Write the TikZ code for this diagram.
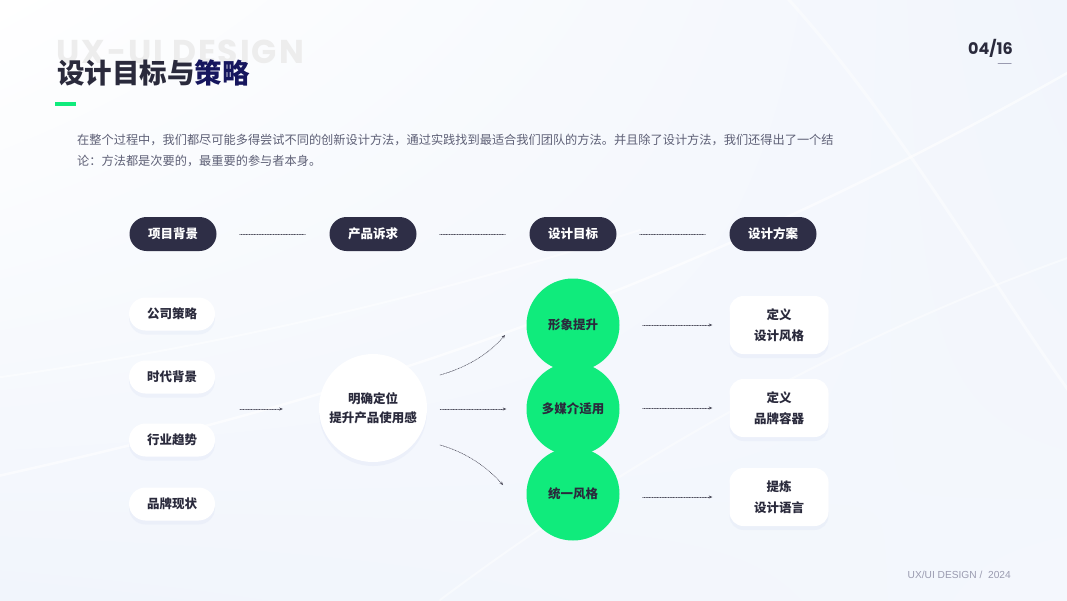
\documentclass[tikz,border=0pt]{standalone}
\usepackage{fontspec}
\setmainfont{Liberation Sans}
\newfontfamily\cjk{Noto Sans CJK SC}
\newfontfamily\pop{Poppins}
\newfontfamily\popwide{Poppins}[LetterSpace=6]
\usetikzlibrary{calc,arrows.meta,shadows,shadings}

\definecolor{ink}{HTML}{2A2A3C}
\definecolor{navy}{HTML}{16165E}
\definecolor{pill}{HTML}{2E2E46}
\definecolor{mint}{HTML}{10EB7C}
\definecolor{prose}{HTML}{5E6076}
\definecolor{muted}{HTML}{9A9BB0}
\definecolor{paper}{HTML}{F1F5FC}
\definecolor{haze}{HTML}{C9D4EE}

\begin{document}
\begin{tikzpicture}[x=1pt, y=-1pt, line cap=round, line join=round]
  \useasboundingbox (0,0) rectangle (1067,600);
  \tikzset{
    headpill/.style={fill=pill, rounded corners=17pt, minimum width=87pt, minimum height=34pt,
      inner sep=0pt, text=white, font=\cjk\bfseries\fontsize{12.5}{15}\selectfont},
    sidepill/.style={fill=white, rounded corners=16.5pt, minimum width=86pt, minimum height=33pt,
      inner sep=0pt, text=ink, font=\cjk\bfseries\fontsize{12.5}{15}\selectfont, soft},
    hubcircle/.style={circle, fill=white, minimum size=108pt, inner sep=0pt, align=center,
      text=ink, font=\cjk\bfseries\fontsize{12.5}{19}\selectfont, soft},
    goalcircle/.style={circle, fill=mint, minimum size=93pt, inner sep=0pt,
      text=ink, font=\cjk\bfseries\fontsize{12.5}{15}\selectfont},
    planbox/.style={fill=white, rounded corners=14pt, minimum width=99pt, minimum height=58pt,
      inner sep=0pt, align=center, text=ink, font=\cjk\bfseries\fontsize{12.5}{21}\selectfont, soft},
    soft/.style={drop shadow={shadow xshift=0pt, shadow yshift=-4pt, opacity=0.18, fill=haze}},
    link/.style={densely dotted, line width=0.6pt, draw=ink!85},
    flow/.style={link, -{Stealth[length=3.5pt, width=3pt]}}
  }

  % --- backdrop with faint sweeping arcs
  \shade[upper left=white, upper right=paper, lower left=paper, lower right=paper!80!white]
    (0,0) rectangle (1067,600);
  \draw[white, line width=2.5pt, opacity=0.6] (-20,480) .. controls (250,420) and (620,330) .. (1090,60);
  \draw[white, line width=2pt, opacity=0.5] (-20,380) .. controls (200,350) and (420,300) .. (640,230);
  \draw[white, line width=3pt, opacity=0.45] (780,-10) .. controls (900,120) and (1000,300) .. (1090,420);
  \draw[white, line width=2pt, opacity=0.45] (440,600) .. controls (640,450) and (860,330) .. (1090,250);

  % --- heading block
  \node[anchor=west, inner sep=0pt, text=black!7, font=\popwide\bfseries\fontsize{33}{33}\selectfont] (mark) at (56,52) {UX-UI DESIGN};
  \node[anchor=west, inner sep=0pt, font=\cjk\bfseries\fontsize{27.5}{30}\selectfont] (title) at (57,73)
    {\textcolor{ink}{设计目标与}\textcolor{navy}{策略}};
  \node[fill=mint, minimum width=21pt, minimum height=4pt, inner sep=0pt] (bar) at (65.5,104) {};
  \node[anchor=east, inner sep=0pt, text=ink, font=\pop\bfseries\fontsize{16}{16}\selectfont] (page) at (1013,48) {04/16};
  \coordinate (tickL) at (998,63);
  \coordinate (tickR) at (1011,63);
  \draw[muted, line width=1pt] (tickL) -- (tickR);
  \node[anchor=north west, inner sep=0pt, align=left, text=prose, font=\cjk\fontsize{12.2}{21}\selectfont] (intro) at (77,134)
    {在整个过程中，我们都尽可能多得尝试不同的创新设计方法，通过实践找到最适合我们团队的方法。并且除了设计方法，我们还得出了一个结\\
     论：方法都是次要的，最重要的参与者本身。};

  % --- column headers
  \node[headpill] (h1) at (173,234) {项目背景};
  \node[headpill] (h2) at (373,234) {产品诉求};
  \node[headpill] (h3) at (573,234) {设计目标};
  \node[headpill] (h4) at (773,234) {设计方案};
  \draw[link, shorten <=23pt, shorten >=24pt] (h1) -- (h2);
  \draw[link, shorten <=23pt, shorten >=24pt] (h2) -- (h3);
  \draw[link, shorten <=23pt, shorten >=24pt] (h3) -- (h4);

  % --- background column
  \node[sidepill] (s1) at (172,314) {公司策略};
  \node[sidepill] (s2) at (172,377) {时代背景};
  \node[sidepill] (s3) at (172,440) {行业趋势};
  \node[sidepill] (s4) at (172,504) {品牌现状};

  % --- hub
  \node[hubcircle] (hub) at (373,408) {明确定位\\提升产品使用感};
  \coordinate (feed) at (240,409);
  \draw[flow, shorten >=36pt] (feed) -- (hub.west |- feed);

  % --- goals
  \node[goalcircle] (g1) at (573,325) {形象提升};
  \node[goalcircle] (g2) at (573,409) {多媒介适用};
  \node[goalcircle] (g3) at (573,494) {统一风格};
  \coordinate (upS) at (440,375);
  \coordinate (upE) at (505,335);
  \coordinate (dnS) at (440,445);
  \coordinate (dnE) at (503,485);
  \draw[flow] (upS) .. controls (465,368) and (488,355) .. (upE);
  \draw[flow, shorten <=13pt, shorten >=20pt] (hub.east |- g2) -- (g2.west);
  \draw[flow] (dnS) .. controls (465,452) and (486,466) .. (dnE);

  % --- plans
  \node[planbox] (p1) at (779,325) {定义\\设计风格};
  \node[planbox] (p2) at (779,408) {定义\\品牌容器};
  \node[planbox] (p3) at (779,497) {提炼\\设计语言};
  \draw[flow, shorten <=23pt, shorten >=17pt] (g1.east |- p1) -- (p1.west);
  \draw[flow, shorten <=23pt, shorten >=17pt] (g2.east |- p2) -- (p2.west);
  \draw[flow, shorten <=23pt, shorten >=17pt] (g3.east |- p3) -- (p3.west);

  % --- footer
  \node[anchor=east, inner sep=0pt, text=muted, font=\fontsize{10.2}{12}\selectfont] (foot) at (1011,575) {UX/UI DESIGN /\ \ 2024};
\end{tikzpicture}
\end{document}
